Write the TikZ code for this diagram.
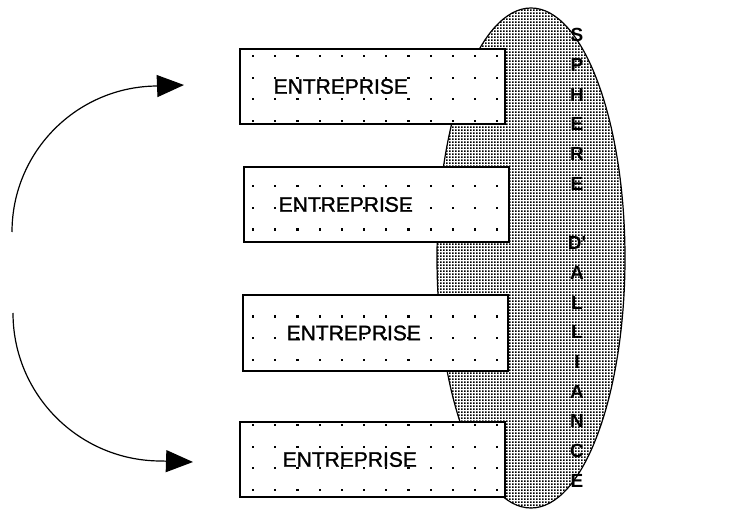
\documentclass[tikz,border=0pt]{standalone}
\usepackage{fontspec}
\setmainfont{Liberation Sans}
\newfontfamily\entfont{Liberation Sans}[FakeBold=1.2]
\usepackage{tikz}
\usetikzlibrary{positioning}
\usetikzlibrary{arrows.meta}
\usetikzlibrary{shapes.geometric}
\usetikzlibrary{patterns.meta}

\tikzdeclarepattern{
	name=densedots,
	type=uncolored,
	bottom left={(0pt,0pt)},
	top right={(3.1pt,3.1pt)},
	tile size={(3.1pt,3.1pt)},
	code={\pgfpathrectangle{\pgfpointorigin}{\pgfpoint{2.1pt}{2.1pt}}\pgfusepath{fill}}
}

\begin{document}
\begin{tikzpicture}[
x=1pt,y=1pt,
entbox/.style={
	% The shape:
	rectangle,
	% The size:
	minimum width=265pt,minimum height=75pt,inner sep=0pt,
	% The border:
	line width=2pt,draw=black,
	% The filling:
	fill=white},
entlabel/.style={
	inner sep=0pt,
	font=\entfont\fontsize{21}{25}\selectfont},
sphere/.style={
	% The shape:
	ellipse,
	% The size:
	minimum width=188pt,minimum height=500pt,inner sep=0pt,
	% The border:
	line width=1.2pt,draw=black,
	% The filling:
	pattern=densedots,pattern color=black},
spherelabel/.style={
	align=center,inner sep=0pt,
	font=\fontsize{19}{29.7}\selectfont\bfseries},
loop arrow/.style={
	line width=1.2pt,
	-{Triangle[length=27pt,width=22pt]}},
]
\useasboundingbox (0,0) rectangle (737,515);

% the alliance sphere, behind the boxes
\node (sphere) [sphere] at (531,257) {};

\node (e1) [entbox] at (372,428.5) {};
\node (e2) [entbox] at (376,310.5) {};
\node (e3) [entbox] at (375,182) {};
\node (e4) [entbox] at (372,55.5) {};

% dotted filling of the boxes
\foreach \b in {e1,e2,e3,e4}{
	\begin{scope}
		\clip ([shift={(1.5pt,1.5pt)}]\b.south west) rectangle ([shift={(-1.5pt,-1.5pt)}]\b.north east);
		\foreach \i in {-1,...,12}
			\foreach \j in {0,...,21}
				\fill (251.9+22.2*\i,23.9+21.7*\j) rectangle ++(2.2,2.2);
	\end{scope}
}

\node (t1) [entlabel, right=35pt of e1.west] {ENTREPRISE};
\node (t2) [entlabel, right=36pt of e2.west] {ENTREPRISE};
\node (t3) [entlabel, right=45pt of e3.west] {ENTREPRISE};
\node (t4) [entlabel, right=44pt of e4.west] {ENTREPRISE};

\node (sphere text) [spherelabel] at ([xshift=46pt]sphere.center)
	{S\\P\\H\\E\\R\\E\\[29.7pt]D\textquotesingle\\A\\L\\L\\I\\A\\N\\C\\E};

% the two turning arrows
\coordinate (up start) at (12,283);
\coordinate (up tip) at (184,430);
\coordinate (down start) at (13,202);
\coordinate (down tip) at (193,53);
\draw[loop arrow] (up start) arc[start angle=180,end angle=90,radius=146] -- (up tip);
\draw[loop arrow] (down start) arc[start angle=180,end angle=270,radius=148] -- (down tip);

\end{tikzpicture}
\end{document}
